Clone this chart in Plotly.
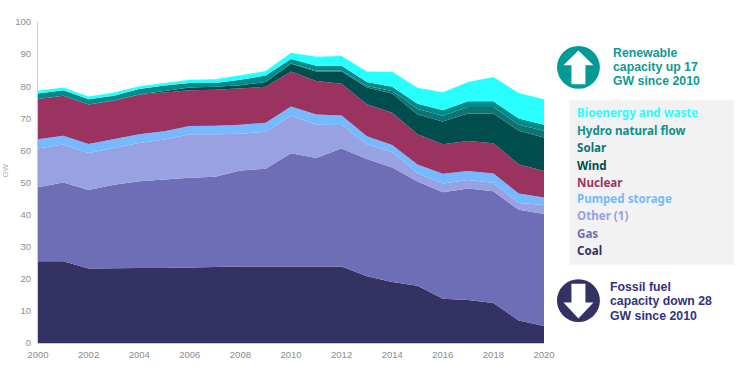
import plotly.graph_objects as go

years = list(range(2000, 2021))
coal = [25.5,25.5,23.2,23.4,23.4,23.4,23.6,23.7,23.8,23.8,23.8,23.8,23.8,20.8,19.0,17.8,13.8,13.4,12.5,7.0,5.3]
gas = [23.0,24.5,24.5,25.9,27.0,27.6,27.9,28.1,29.9,30.5,35.3,33.8,36.8,36.5,35.7,32.5,33.2,34.7,34.8,34.5,34.9]
other = [12.1,11.8,11.5,11.5,11.9,12.4,13.5,13.2,11.5,11.5,11.7,10.4,7.3,4.6,4.7,2.6,2.7,2.7,2.6,2.1,2.8]
pumped = [2.9,2.8,2.8,2.8,2.7,2.6,2.6,2.7,2.8,2.8,2.9,3.2,3.0,2.5,2.3,2.7,3.0,2.8,2.9,3.0,2.3]
nuclear = [12.5,12.4,12.3,11.9,12.3,12.1,11.1,11.2,11.3,11.2,10.9,10.4,9.9,10.0,10.0,9.4,9.2,9.3,9.4,9.1,8.3]
wind = [0,0,0,0.1,0.1,0.4,0.9,0.9,1.0,1.5,2.4,3.0,3.8,5.2,6.0,6.2,7.1,8.6,9.3,10.4,10.4]
solar = [0,0,0,0,0,0,0,0,0,0,0.1,0.3,0.3,0.5,0.8,1.7,1.8,2.0,2.0,1.9,2.1]
hydro = [1.7,1.7,1.6,1.4,1.7,1.7,1.4,1.2,1.7,2.0,1.4,1.5,1.5,1.2,1.3,1.6,1.7,1.8,1.8,1.9,1.9]
bio = [0.9,0.9,0.9,1.0,0.9,0.9,1.0,1.2,1.4,1.4,1.9,2.8,3.0,3.3,4.7,5.0,5.6,6.0,7.6,8.0,7.9]

series_names = ["Coal","Gas","Other (1)","Pumped storage","Nuclear","Wind","Solar","Hydro natural flow","Bioenergy and waste"]
series_values = [coal,gas,other,pumped,nuclear,wind,solar,hydro,bio]
series_colors = ["#333262","#6d6eb5","#98a1e2","#75baff","#9b3361","#004d4d","#0f7373","#008b8b","#29ffff"]

W, H = 738, 372
L, R, T, B = 37.5, 544.5, 21.5, 343.5

def px(x):
    return (x - L) / (R - L)

def py(y):
    return (B - y) / (B - T)

fig = go.Figure()
for n, v, c in zip(series_names, series_values, series_colors):
    fig.add_trace(go.Scatter(x=years, y=v, name=n, mode="lines", stackgroup="one",
                             line=dict(width=0, color=c), fillcolor=c, showlegend=False))

shapes = []
annotations = []

# grey legend panel
shapes.append(dict(type="rect", xref="paper", yref="paper", layer="below",
                   x0=px(570), x1=px(735), y0=py(265), y1=py(100),
                   fillcolor="#f2f2f2", line=dict(width=0)))

# badge circles
def circle(cx, cy, r, col):
    shapes.append(dict(type="circle", xref="paper", yref="paper",
                       x0=px(cx-r), x1=px(cx+r), y0=py(cy+r), y1=py(cy-r),
                       fillcolor=col, line=dict(width=0)))

def poly(pts, col):
    d = "M " + " L ".join(f"{px(a):.5f},{py(b):.5f}" for a, b in pts) + " Z"
    shapes.append(dict(type="path", xref="paper", yref="paper", path=d,
                       fillcolor=col, line=dict(width=0)))

circle(579, 67, 21.5, "#009b96")
poly([(579,50),(564,65),(572,65),(572,84),(586,84),(586,65),(594,65)], "#ffffff")
circle(579, 301, 21.5, "#333262")
poly([(579,319),(564,303),(572,303),(572,284),(586,284),(586,303),(594,303)], "#ffffff")

# legend labels
legend_y = [112.5, 130, 147, 165, 182, 199, 216, 234, 251]
legend_colors = ["#29ffff","#0f8f8a","#0f7373","#004d4d","#9b3361","#75baff","#98a1e2","#6d6eb5","#333262"]
for n, y, c in zip(series_names[::-1], legend_y, legend_colors):
    annotations.append(dict(text=f"<b>{n}</b>", xref="paper", yref="paper", x=px(576), y=py(y),
                            xanchor="left", yanchor="middle", showarrow=False,
                            font=dict(family="Noto Sans", size=11.6, color=c)))

callouts = [(["Renewable","capacity up 17","GW since 2010"], 612, [52.5,66.5,81], "#0f9a94"),
            (["Fossil fuel","capacity down 28","GW since 2010"], 609, [287,301.5,316], "#333280")]
for lines, x, ys, c in callouts:
    for t, y in zip(lines, ys):
        annotations.append(dict(text=f"<b>{t}</b>", xref="paper", yref="paper", x=px(x), y=py(y),
                                xanchor="left", yanchor="middle", showarrow=False,
                                font=dict(family="Liberation Sans", size=12.3, color=c)))

annotations.append(dict(text="GW", xref="paper", yref="paper", x=px(4), y=py(171), textangle=-90,
                        xanchor="center", yanchor="middle", showarrow=False,
                        font=dict(family="Liberation Sans", size=8, color="#aaaaaa")))

fig.update_layout(
    width=W, height=H, autosize=False,
    margin=dict(l=L, r=W-R, t=T, b=H-B, pad=0),
    paper_bgcolor="white", plot_bgcolor="white",
    shapes=shapes, annotations=annotations, showlegend=False,
    xaxis=dict(range=[2000, 2020], tickmode="array", tickvals=list(range(2000, 2021, 2)),
               showgrid=False, zeroline=False, showline=True, linecolor="#cccccc", linewidth=1,
               ticks="", ticklabelstandoff=3, tickfont=dict(family="Liberation Sans", size=9.5, color="#8c8c8c")),
    yaxis=dict(range=[0, 100], tickmode="array", tickvals=list(range(0, 101, 10)),
               showgrid=False, zeroline=False, showline=True, linecolor="#cccccc", linewidth=1,
               ticks="", ticklabelstandoff=4, tickfont=dict(family="Liberation Sans", size=9.5, color="#8c8c8c")),
)
fig.write_html("out.html", config=dict(displayModeBar=False),
               post_script="document.body.style.margin='0';document.documentElement.style.overflow='hidden';")
